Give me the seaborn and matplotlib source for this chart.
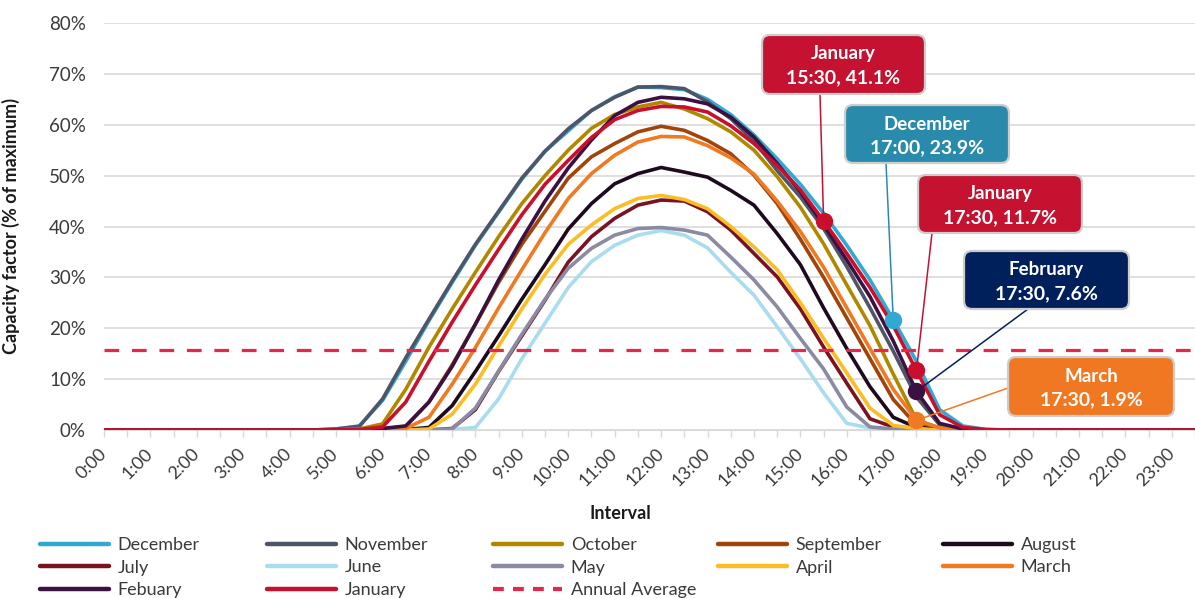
import matplotlib
matplotlib.use("Agg")
import matplotlib.pyplot as plt
import seaborn as sns
import pandas as pd
from matplotlib.lines import Line2D
from matplotlib.patches import FancyBboxPatch
from matplotlib.transforms import IdentityTransform

# ---------------- data ----------------
hour_labels = ["0:00", "1:00", "2:00", "3:00", "4:00", "5:00", "6:00", "7:00",
               "8:00", "9:00", "10:00", "11:00", "12:00", "13:00", "14:00", "15:00",
               "16:00", "17:00", "18:00", "19:00", "20:00", "21:00", "22:00", "23:00"]
interval_index = list(range(48))  # half-hour intervals 0:00 ... 23:30

december = [0, 0, 0, 0, 0, 0, 0, 0, 0, 0,
            0.2, 0.8, 5.8, 13.5, 21.5, 29.0, 36.3, 42.8, 49.3, 54.8,
            58.8, 62.8, 65.5, 67.4, 67.3, 66.9, 65.0, 62.0, 58.0, 53.3,
            48.3, 42.6, 36.3, 29.5, 21.7, 13.5, 4.0, 0.8, 0.1, 0,
            0, 0, 0, 0, 0, 0, 0, 0]
november = [0, 0, 0, 0, 0, 0, 0, 0, 0, 0,
            0.2, 0.7, 6.1, 14.2, 21.8, 29.3, 36.5, 43.0, 49.5, 54.8,
            59.2, 62.8, 65.4, 67.4, 67.5, 67.1, 64.5, 61.2, 56.8, 51.0,
            45.8, 39.6, 32.1, 24.0, 15.5, 6.5, 1.0, 0.2, 0, 0,
            0, 0, 0, 0, 0, 0, 0, 0]
october = [0, 0, 0, 0, 0, 0, 0, 0, 0, 0,
           0, 0.2, 1.2, 8.0, 16.3, 23.8, 31.0, 38.0, 44.5, 50.0,
           55.0, 59.3, 62.0, 63.5, 64.4, 63.1, 61.2, 58.6, 55.0, 49.8,
           43.8, 36.6, 28.5, 20.5, 11.0, 2.0, 0.4, 0, 0, 0,
           0, 0, 0, 0, 0, 0, 0, 0]
september = [0, 0, 0, 0, 0, 0, 0, 0, 0, 0,
             0, 0, 0.2, 0.7, 5.5, 12.8, 20.8, 29.0, 36.5, 43.0,
             49.5, 53.7, 56.3, 58.6, 59.7, 58.9, 56.9, 54.3, 50.1, 44.5,
             37.5, 30.0, 22.0, 14.0, 6.0, 1.0, 0.2, 0, 0, 0,
             0, 0, 0, 0, 0, 0, 0, 0]
august = [0, 0, 0, 0, 0, 0, 0, 0, 0, 0,
          0, 0, 0, 0.1, 0.5, 4.8, 11.5, 18.5, 25.7, 32.5,
          39.5, 44.5, 48.4, 50.4, 51.6, 50.7, 49.7, 47.1, 44.2, 38.6,
          32.5, 24.0, 16.0, 8.5, 2.5, 0.5, 0.1, 0, 0, 0,
          0, 0, 0, 0, 0, 0, 0, 0]
july = [0, 0, 0, 0, 0, 0, 0, 0, 0, 0,
        0, 0, 0, 0, 0, 0.3, 4.0, 11.5, 18.5, 25.5,
        33.0, 38.0, 41.6, 44.2, 45.2, 45.0, 42.9, 39.3, 34.7, 30.1,
        23.8, 16.3, 9.2, 2.2, 0.6, 0.2, 0, 0, 0, 0,
        0, 0, 0, 0, 0, 0, 0, 0]
june = [0, 0, 0, 0, 0, 0, 0, 0, 0, 0,
        0, 0, 0, 0, 0, 0.1, 0.5, 6.1, 14.0, 21.0,
        28.0, 33.1, 36.3, 38.3, 39.2, 38.3, 35.8, 31.0, 26.5, 20.3,
        14.0, 7.3, 1.3, 0.4, 0.2, 0, 0, 0, 0, 0,
        0, 0, 0, 0, 0, 0, 0, 0]
may = [0, 0, 0, 0, 0, 0, 0, 0, 0, 0,
       0, 0, 0, 0, 0, 0.2, 4.3, 11.6, 18.8, 25.7,
       31.8, 35.7, 38.3, 39.6, 39.8, 39.3, 38.3, 34.0, 29.5, 24.2,
       18.0, 12.0, 4.5, 0.6, 0.2, 0, 0, 0, 0, 0,
       0, 0, 0, 0, 0, 0, 0, 0]
april = [0, 0, 0, 0, 0, 0, 0, 0, 0, 0,
         0, 0, 0, 0, 0.2, 3.1, 9.0, 16.5, 23.8, 30.6,
         36.5, 40.3, 43.5, 45.5, 46.1, 45.3, 43.5, 40.0, 36.0, 31.5,
         25.0, 18.0, 11.2, 4.3, 0.9, 0.3, 0, 0, 0, 0,
         0, 0, 0, 0, 0, 0, 0, 0]
march = [0, 0, 0, 0, 0, 0, 0, 0, 0, 0,
         0, 0, 0, 0.3, 2.5, 9.0, 16.2, 24.0, 31.5, 38.8,
         45.5, 50.4, 54.0, 56.6, 57.7, 57.6, 55.9, 53.5, 50.3, 45.0,
         39.0, 32.0, 24.0, 16.0, 8.0, 1.9, 0.4, 0.1, 0, 0,
         0, 0, 0, 0, 0, 0, 0, 0]
february = [0, 0, 0, 0, 0, 0, 0, 0, 0, 0,
            0, 0, 0.3, 0.8, 5.5, 12.5, 20.8, 29.5, 37.5, 45.0,
            51.5, 57.0, 61.8, 64.4, 65.4, 65.1, 64.1, 61.5, 57.6, 52.4,
            46.8, 40.3, 33.4, 26.2, 17.5, 7.6, 1.3, 0.2, 0, 0,
            0, 0, 0, 0, 0, 0, 0, 0]
january = [0, 0, 0, 0, 0, 0, 0, 0, 0, 0,
           0, 0.1, 0.6, 5.5, 13.5, 21.2, 28.5, 35.5, 42.3, 48.3,
           53.0, 57.5, 61.0, 62.8, 63.6, 63.5, 62.5, 59.8, 56.3, 52.0,
           47.2, 41.1, 34.7, 28.0, 20.5, 11.7, 3.0, 0.5, 0.1, 0,
           0, 0, 0, 0, 0, 0, 0, 0]
annual_average = 15.8

months = ["December", "November", "October", "September", "August", "July",
          "June", "May", "April", "March", "February", "January"]
series = [december, november, october, september, august, july,
          june, may, april, march, february, january]
legend_names = {"February": "Febuary"}

colors = {"December": "#31a9d2", "November": "#4f5568", "October": "#b08800",
          "September": "#a0440c", "August": "#1e0a1f", "July": "#7a1222",
          "June": "#a9dcee", "May": "#8a8aa3", "April": "#fbbd24",
          "March": "#f07a22", "February": "#3a1140", "January": "#c8102e"}
avg_color = "#e8264c"

# callouts: (month, interval index, title, value text, box face colour)
callouts = [("January", 31, "January", "15:30, 41.1%", "#c41230"),
            ("December", 34, "December", "17:00, 23.9%", "#2a8aab"),
            ("January", 35, "January", "17:30, 11.7%", "#c41230"),
            ("February", 35, "February", "17:30, 7.6%", "#00205b"),
            ("March", 35, "March", "17:30, 1.9%", "#f07822")]
# box pixel boxes (left, top, right, bottom) and connector start (x, y) - layout only
callout_boxes = [(762, 35, 925, 94), (845, 105, 1009, 163), (918, 175, 1082, 233),
                 (964, 251, 1129, 309), (1008, 357, 1174, 416)]
callout_anchor = [(820, 94), (886, 163), (932, 233), (1028, 309), (1008, 388)]

# ---------------- style ----------------
sns.set_style("white")
plt.rcParams["font.family"] = ["Lato", "DejaVu Sans"]
plt.rcParams["lines.solid_joinstyle"] = "round"
plt.rcParams["lines.solid_capstyle"] = "round"
text_col = "#3a3a3a"

W, H = 1195, 598
fig = plt.figure(figsize=(W / 100, H / 100), dpi=100)
ax = fig.add_axes([104 / W, 1 - 430 / H, 1 - 104 / W, (430 - 23) / H])

df = pd.DataFrame({
    "interval": [i for _ in months for i in interval_index],
    "value": [v for s in series for v in s],
    "month": [m for m in months for _ in interval_index],
})
sns.lineplot(data=df, x="interval", y="value", hue="month", hue_order=months,
             palette=colors, linewidth=2.6, estimator=None, legend=False, ax=ax,
             zorder=3)
ax.axhline(annual_average, color=avg_color, lw=2.3, ls=(0, (4.6, 4.0)), zorder=4)

ax.set_xlim(0, 46.7)
ax.set_ylim(0, 80)
ax.set_xticks(interval_index[::2])
ax.set_xticklabels(hour_labels, rotation=45, ha="right", va="center",
                   rotation_mode="anchor", fontsize=13, color=text_col)
ax.set_xticks(interval_index[1::2], minor=True)
ax.tick_params(axis="x", which="both", length=5, width=1, color="#d9d9d9",
               pad=10, bottom=True)
ax.set_yticks(range(0, 81, 10))
ax.set_yticklabels([f"{v}%" for v in range(0, 81, 10)], fontsize=13.5, color=text_col)
ax.tick_params(axis="y", length=0, pad=13)
ax.yaxis.grid(True, color="#d9d9d9", lw=1.2)
ax.xaxis.grid(False)
ax.set_axisbelow(True)
for s in ["top", "right", "left"]:
    ax.spines[s].set_visible(False)
ax.spines["bottom"].set_color("#d9d9d9")

ax.set_xlabel("Interval", fontsize=13, fontweight="bold", color="#1a1a1a")
ax.xaxis.set_label_coords((620 - 104) / 1091, (430 - 505) / 407)
ax.set_ylabel("Capacity factor (% of maximum)", fontsize=13, fontweight="bold",
              color="#1a1a1a")
ax.yaxis.set_label_coords((20 - 104) / 1091, 0.5)

# ---------------- callouts ----------------
data = dict(zip(months, series))
for (month, idx, title, txt, face), (l, t, r, b), (axp, ayp) in zip(callouts, callout_boxes, callout_anchor):
    val = data[month][idx]
    ax.annotate("", xy=(idx, val), xycoords="data", xytext=(axp, H - ayp),
                textcoords="figure pixels",
                arrowprops=dict(arrowstyle="-", color=face, lw=1.1, shrinkA=0, shrinkB=0),
                annotation_clip=False, zorder=5)
    ax.plot([idx], [val], "o", ms=11.5, color=colors[month], zorder=6, clip_on=False)
    box = FancyBboxPatch((l, H - b), r - l, b - t,
                         boxstyle="round,pad=0,rounding_size=8",
                         transform=IdentityTransform(), fc=face, ec="#cdcdcd",
                         lw=1.6, zorder=10)
    fig.add_artist(box)
    cx = (l + r) / 2
    fig.text(cx / W, 1 - (t + 19) / H, title, ha="center", va="center",
             fontsize=13.5, fontweight="bold", color="white", zorder=11)
    fig.text(cx / W, 1 - (t + 43) / H, txt, ha="center", va="center",
             fontsize=14, fontweight="bold", color="white", zorder=11)

# ---------------- legend ----------------
def handle(m):
    if m == "Annual Average":
        return Line2D([], [], color=avg_color, lw=3, ls=(0, (2.6, 2.2)))
    return Line2D([], [], color=colors[m], lw=3.2)

legend_cols = [["December", "July", "February"],
               ["November", "June", "January"],
               ["October", "May", "Annual Average"],
               ["September", "April"],
               ["August", "March"]]
col_x = [40, 267, 493, 718, 943]
for names, x0 in zip(legend_cols, col_x):
    fig.legend([handle(n) for n in names], [legend_names.get(n, n) for n in names],
               loc="upper left", bbox_to_anchor=(x0 / W, 1 - 537 / H),
               frameon=False, fontsize=13, handlelength=3.8, handletextpad=0.5,
               labelspacing=0.36, borderpad=0, borderaxespad=0, labelcolor=text_col)

fig.savefig("out.png", dpi=100)
